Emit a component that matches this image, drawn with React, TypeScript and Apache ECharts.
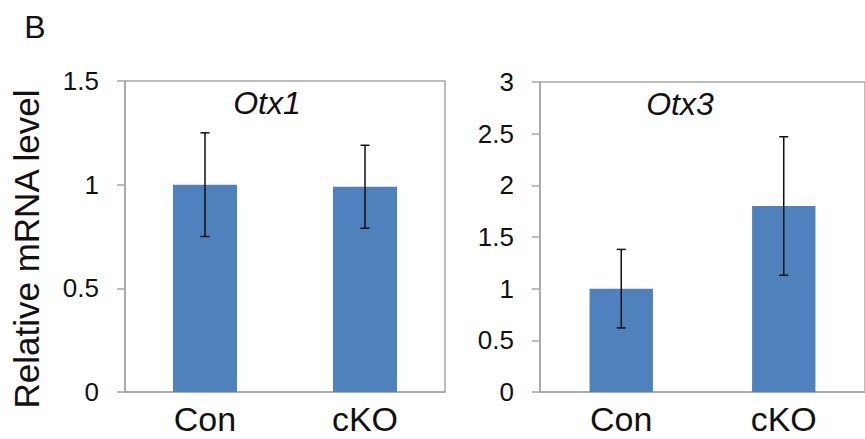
import React, { useEffect, useRef } from "react";
import * as echarts from "echarts";

// Groups on the x axis
const categories = ["Con", "cKO"];

// Otx1 relative expression (mean and error)
const otx1Mean = [1.0, 0.99];
const otx1Err = [0.25, 0.2];

// Otx3 relative expression (mean and error)
const otx3Mean = [1.0, 1.8];
const otx3Err = [0.38, 0.67];

const BAR_COLOR = "#4F81BD";
const AXIS_COLOR = "#a6a6a6";
const FONT = "'Liberation Sans', Arial, sans-serif";

function errorData(mean: number[], err: number[]) {
  return mean.map((m, i) => [i, m - err[i], m + err[i]]);
}

function errorRender(params: any, api: any) {
  const x = api.value(0);
  const top = api.coord([x, api.value(2)]);
  const bot = api.coord([x, api.value(1)]);
  const half = 4.5;
  const style = { stroke: "#111", lineWidth: 1.5 };
  return {
    type: "group",
    children: [
      { type: "line", shape: { x1: top[0], y1: top[1], x2: bot[0], y2: bot[1] }, style },
      { type: "line", shape: { x1: top[0] - half, y1: top[1], x2: top[0] + half, y2: top[1] }, style },
      { type: "line", shape: { x1: bot[0] - half, y1: bot[1], x2: bot[0] + half, y2: bot[1] }, style },
    ],
  };
}

function yAxisFor(gridIndex: number, max: number, margin: number) {
  return {
    type: "value",
    gridIndex,
    min: 0,
    max,
    interval: 0.5,
    axisLine: { show: true, lineStyle: { color: AXIS_COLOR, width: 1.5 } },
    axisTick: { show: true, length: 8, inside: false, lineStyle: { color: AXIS_COLOR, width: 1.5 } },
    splitLine: { show: false },
    axisLabel: { color: "#111", fontSize: 26, fontFamily: FONT, margin },
  };
}

function xAxisFor(gridIndex: number) {
  return {
    type: "category",
    gridIndex,
    data: categories,
    axisLine: { show: true, lineStyle: { color: AXIS_COLOR, width: 1.5 } },
    axisTick: { show: false },
    axisLabel: { color: "#111", fontSize: 34, lineHeight: 28, fontFamily: FONT, margin: 13 },
  };
}

export default function App() {
  const ref = useRef<HTMLDivElement>(null);

  useEffect(() => {
    if (!ref.current) return;
    const chart = echarts.init(ref.current, null, { renderer: "svg" });
    chart.setOption({
      animation: false,
      backgroundColor: "#ffffff",
      grid: [
        { left: 125, top: 81, width: 320, height: 311, show: true, borderColor: AXIS_COLOR, borderWidth: 1.5 },
        { left: 540, top: 82, width: 336, height: 310, show: true, borderColor: AXIS_COLOR, borderWidth: 1.5 },
      ],
      xAxis: [xAxisFor(0), xAxisFor(1)],
      yAxis: [yAxisFor(0, 1.5, 26), yAxisFor(1, 3, 26)],
      graphic: [
        {
          type: "text",
          x: 35,
          y: 27,
          style: { text: "B", fontSize: 32, fontFamily: FONT, fill: "#111", align: "center", verticalAlign: "middle" },
        },
        {
          type: "text",
          x: 26,
          y: 249,
          rotation: Math.PI / 2,
          style: {
            text: "Relative mRNA level",
            fontSize: 35,
            fontFamily: FONT,
            fill: "#111",
            align: "center",
            verticalAlign: "middle",
          },
        },
        {
          type: "text",
          x: 267,
          y: 103,
          style: {
            text: "Otx1",
            fontSize: 32,
            fontStyle: "italic",
            fontFamily: FONT,
            fill: "#111",
            align: "center",
            verticalAlign: "middle",
          },
        },
        {
          type: "text",
          x: 680,
          y: 104,
          style: {
            text: "Otx3",
            fontSize: 32,
            fontStyle: "italic",
            fontFamily: FONT,
            fill: "#111",
            align: "center",
            verticalAlign: "middle",
          },
        },
      ],
      series: [
        {
          type: "bar",
          xAxisIndex: 0,
          yAxisIndex: 0,
          data: otx1Mean,
          barWidth: "40%",
          itemStyle: { color: BAR_COLOR },
        },
        {
          type: "custom",
          xAxisIndex: 0,
          yAxisIndex: 0,
          data: errorData(otx1Mean, otx1Err),
          renderItem: errorRender,
          z: 5,
        },
        {
          type: "bar",
          xAxisIndex: 1,
          yAxisIndex: 1,
          data: otx3Mean,
          barWidth: "39%",
          itemStyle: { color: BAR_COLOR },
        },
        {
          type: "custom",
          xAxisIndex: 1,
          yAxisIndex: 1,
          data: errorData(otx3Mean, otx3Err),
          renderItem: errorRender,
          z: 5,
        },
      ],
    });
    return () => chart.dispose();
  }, []);

  return (
    <div
      ref={ref}
      style={{ position: "absolute", left: 0, top: 0, width: 865, height: 439, background: "#fff" }}
    />
  );
}
